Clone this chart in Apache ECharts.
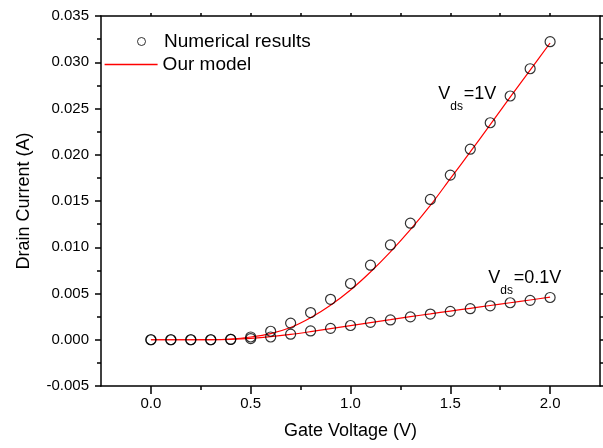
<!DOCTYPE html>
<html>
<head>
<meta charset="utf-8">
<script src="https://cdn.jsdelivr.net/npm/echarts@6/dist/echarts.min.js"></script>
<style>
  html, body { margin: 0; padding: 0; background: #fff; }
  #chart { width: 603px; height: 448px; }
</style>
</head>
<body>
<div id="chart"></div>
<script>
// ---- data ----
const gateVoltage = [0.0, 0.1, 0.2, 0.3, 0.4, 0.5, 0.6, 0.7, 0.8, 0.9, 1.0, 1.1, 1.2, 1.3, 1.4, 1.5, 1.6, 1.7, 1.8, 1.9, 2.0];
const numVds1 = [0, 0, 0, 0, 0.00005, 0.0003, 0.00092, 0.0018, 0.00294, 0.00437, 0.00608, 0.00806, 0.01025, 0.0126, 0.01517, 0.0178, 0.0206, 0.02346, 0.02635, 0.0293, 0.03222];
const numVds01 = [0, 0, 0, 0, 0.00003, 0.00012, 0.0003, 0.0006, 0.00095, 0.00123, 0.00154, 0.00188, 0.00214, 0.00247, 0.00278, 0.00307, 0.00336, 0.00367, 0.004, 0.00426, 0.00457];
const modelVds1 = [0, 0, 0, 0.00001, 0.00008, 0.0003, 0.00067, 0.00132, 0.00237, 0.00372, 0.00537, 0.00732, 0.0095, 0.0119, 0.01452, 0.01742, 0.0203, 0.02325, 0.02622, 0.02915, 0.03208];
const modelVds01 = [0, 0, 0, 0, 0.00004, 0.00015, 0.00033, 0.00058, 0.00088, 0.0012, 0.00153, 0.00186, 0.00218, 0.0025, 0.0028, 0.0031, 0.0034, 0.0037, 0.004, 0.0043, 0.0046];
const xMajorTicks = [0.0, 0.5, 1.0, 1.5, 2.0];
const xMinorTicks = [0.25, 0.75, 1.25, 1.75];
const xAllTicks = [0.0, 0.25, 0.5, 0.75, 1.0, 1.25, 1.5, 1.75, 2.0];
const annotations = [
  { main: 'V', sub: 'ds', tail: '=1V', at: [1.44, 0.0256] },
  { main: 'V', sub: 'ds', tail: '=0.1V', at: [1.69, 0.0057] }
];

const FONT = 'Liberation Sans, Arial, Helvetica, sans-serif';
const pairs = (ys) => gateVoltage.map((x, i) => [x, ys[i]]);

const chart = echarts.init(document.getElementById('chart'), null, { renderer: 'canvas' });

const axisLineStyle = { color: '#000', width: 1.5 };

const option = {
  animation: false,
  backgroundColor: '#fff',
  textStyle: { fontFamily: FONT },
  grid: { left: 101, right: 3, top: 16, bottom: 62, containLabel: false },
  legend: [
    {
      data: ['Numerical results'], left: 137, top: 32, padding: 0,
      itemWidth: 35, itemHeight: 8, selectedMode: false,
      itemStyle: { color: 'rgba(0,0,0,0)', borderColor: '#000', borderWidth: 1 },
      textStyle: { fontSize: 19, color: '#000', fontFamily: FONT }
    },
    {
      data: ['Our model'], left: 104.6, top: 55, padding: 0,
      icon: 'rect', itemWidth: 53, itemHeight: 1.4, selectedMode: false,
      itemStyle: { color: '#ff0000', borderWidth: 0 },
      textStyle: { fontSize: 19, color: '#000', fontFamily: FONT }
    }
  ],
  xAxis: [
    {
      type: 'value', min: -0.25, max: 2.25, position: 'bottom',
      axisLine: { show: true, onZero: false, lineStyle: axisLineStyle },
      axisTick: { show: true, inside: false, length: 8, customValues: xMajorTicks, lineStyle: axisLineStyle },
      axisLabel: { show: true, customValues: xMajorTicks, margin: 10, fontSize: 15, color: '#000', fontFamily: FONT,
                   formatter: (v) => v.toFixed(1) },
      splitLine: { show: false },
      name: 'Gate Voltage (V)', nameLocation: 'middle', nameGap: 36,
      nameTextStyle: { fontSize: 18, color: '#000', fontFamily: FONT }
    },
    {
      type: 'value', min: -0.25, max: 2.25, position: 'bottom',
      axisLine: { show: false, onZero: false },
      axisTick: { show: true, inside: false, length: 4, customValues: xMinorTicks, lineStyle: axisLineStyle },
      axisLabel: { show: false },
      splitLine: { show: false }
    },
    {
      type: 'value', min: -0.25, max: 2.25, position: 'top',
      axisLine: { show: true, onZero: false, lineStyle: axisLineStyle },
      axisTick: { show: true, inside: false, length: 3, customValues: xAllTicks, lineStyle: axisLineStyle },
      axisLabel: { show: false },
      splitLine: { show: false }
    }
  ],
  yAxis: [
    {
      type: 'value', min: -0.005, max: 0.035, interval: 0.005, position: 'left',
      axisLine: { show: true, onZero: false, lineStyle: axisLineStyle },
      axisTick: { show: true, inside: false, length: 6, lineStyle: axisLineStyle },
      minorTick: { show: true, splitNumber: 2, length: 4, lineStyle: { color: '#000', width: 1.5 } },
      axisLabel: { show: true, margin: 12, fontSize: 15, color: '#000', fontFamily: FONT,
                   formatter: (v) => v.toFixed(3) },
      splitLine: { show: false },
      minorSplitLine: { show: false },
      name: 'Drain Current (A)', nameLocation: 'middle', nameGap: 68,
      nameTextStyle: { fontSize: 18, color: '#000', fontFamily: FONT }
    },
    {
      type: 'value', min: -0.005, max: 0.035, interval: 0.005, position: 'right',
      axisLine: { show: true, onZero: false, lineStyle: axisLineStyle },
      axisTick: { show: true, inside: false, length: 4, lineStyle: axisLineStyle },
      minorTick: { show: true, splitNumber: 2, length: 4, lineStyle: { color: '#000', width: 1.5 } },
      axisLabel: { show: false },
      splitLine: { show: false },
      minorSplitLine: { show: false }
    }
  ],
  series: [
    {
      name: 'Our model', type: 'line', data: pairs(modelVds1),
      xAxisIndex: 0, yAxisIndex: 0,
      smooth: 0.3, symbol: 'none', showSymbol: false,
      lineStyle: { color: '#ff0000', width: 1.2 }, itemStyle: { color: '#ff0000' }, z: 2
    },
    {
      name: 'Our model', type: 'line', data: pairs(modelVds01),
      xAxisIndex: 0, yAxisIndex: 0,
      smooth: 0.3, symbol: 'none', showSymbol: false,
      lineStyle: { color: '#ff0000', width: 1.2 }, itemStyle: { color: '#ff0000' }, z: 2
    },
    {
      name: 'Numerical results', type: 'scatter', data: pairs(numVds1),
      xAxisIndex: 0, yAxisIndex: 0,
      symbol: 'circle', symbolSize: 10,
      itemStyle: { color: 'rgba(0,0,0,0)', borderColor: '#000', borderWidth: 1.2 }, z: 3
    },
    {
      name: 'Numerical results', type: 'scatter', data: pairs(numVds01),
      xAxisIndex: 0, yAxisIndex: 0,
      symbol: 'circle', symbolSize: 10,
      itemStyle: { color: 'rgba(0,0,0,0)', borderColor: '#000', borderWidth: 1.2 }, z: 3
    }
  ]
};

chart.setOption(option);

// Annotations placed in data space via the chart's own scales
const graphics = annotations.map((a) => {
  const p = chart.convertToPixel({ xAxisIndex: 0, yAxisIndex: 0 }, a.at);
  const mainW = 12.0;
  const subW = 13.5;
  return {
    type: 'group', x: p[0], y: p[1], silent: true,
    children: [
      { type: 'text', x: 0, y: 0, style: { text: a.main, font: '18px ' + FONT, fill: '#000', textVerticalAlign: 'bottom', verticalAlign: 'bottom' } },
      { type: 'text', x: mainW, y: 10, style: { text: a.sub, font: '12px ' + FONT, fill: '#000', textVerticalAlign: 'bottom', verticalAlign: 'bottom' } },
      { type: 'text', x: mainW + subW, y: 0, style: { text: a.tail, font: '18px ' + FONT, fill: '#000', textVerticalAlign: 'bottom', verticalAlign: 'bottom' } }
    ]
  };
});
chart.setOption({ graphic: graphics });
</script>
</body>
</html>
